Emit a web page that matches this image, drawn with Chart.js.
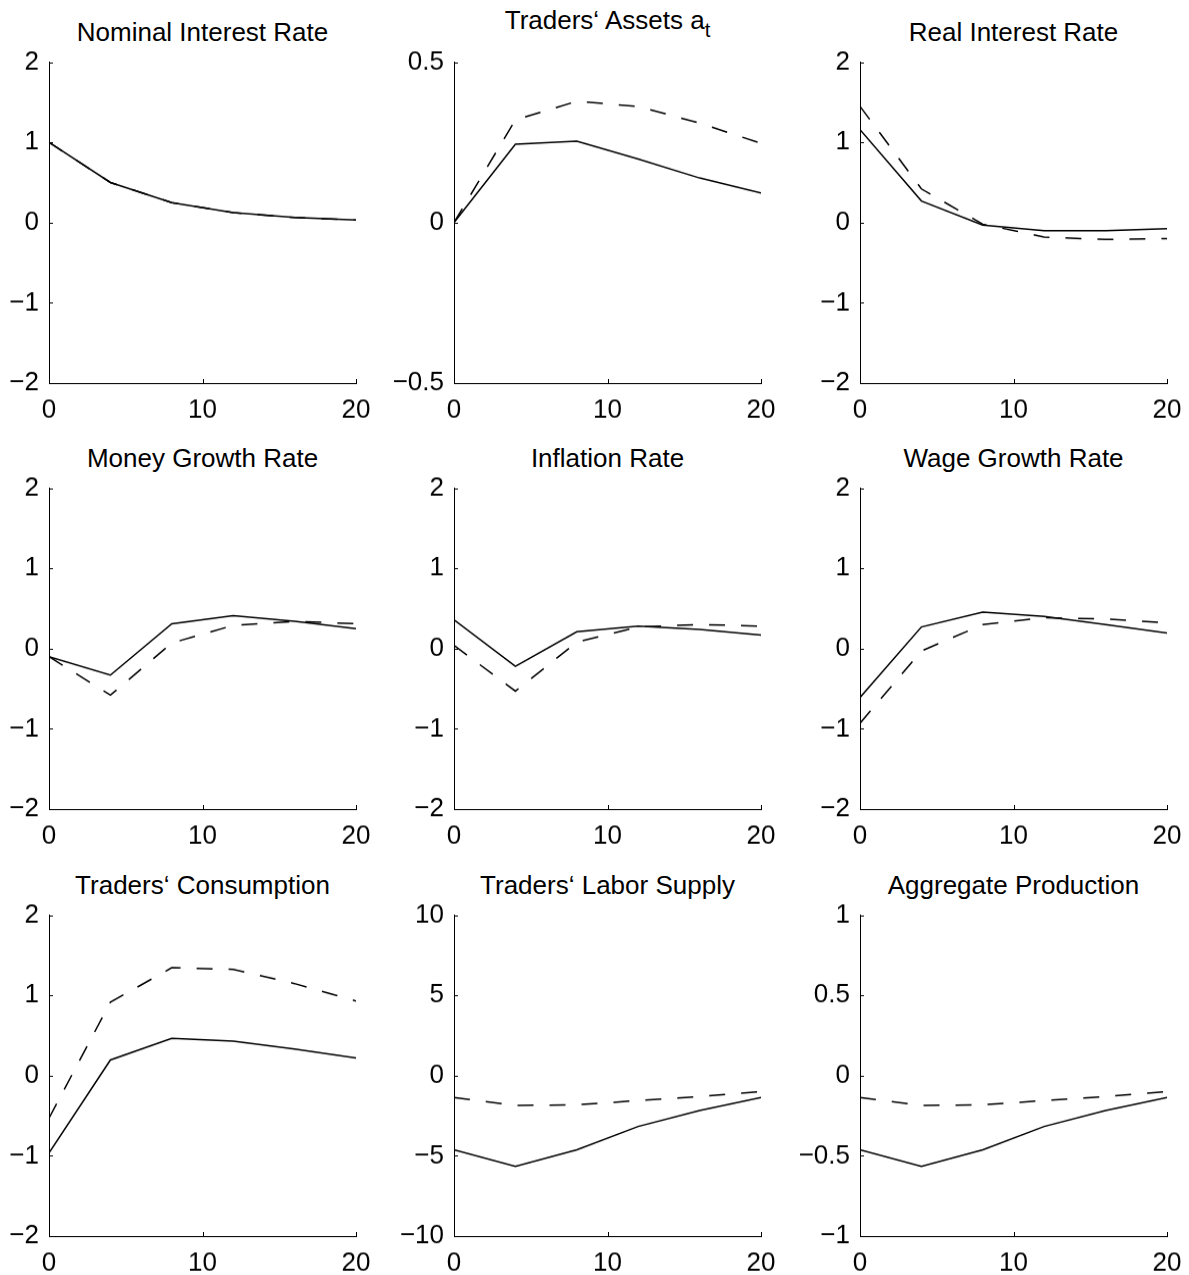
<!DOCTYPE html>
<html>
<head>
<meta charset="utf-8">
<script src="https://cdn.jsdelivr.net/npm/chart.js@4.4.1/dist/chart.umd.min.js"></script>
<style>
  html, body { margin: 0; padding: 0; background: #fff; }
  #page { position: relative; width: 1189px; height: 1275px; overflow: hidden; }
  .ttl { position: absolute; text-align: center; font-family: "Liberation Sans", Arial, sans-serif;
         font-size: 26px; line-height: 26px; color: #000; white-space: nowrap; }
  .ttl sub { font-size: 0.78em; vertical-align: -0.4em; line-height: 0; }
  canvas { position: absolute; }
</style>
</head>
<body>
<div id="page"></div>
<script>
// horizon (quarters)
const periods = [0, 4, 8, 12, 16, 20];
const xTicks = [0, 10, 20];

// y tick sets
const ticksTwo = [-2, -1, 0, 1, 2];
const ticksHalf = [-0.5, 0, 0.5];
const ticksTen = [-10, -5, 0, 5, 10];
const ticksOne = [-1, -0.5, 0, 0.5, 1];

// impulse responses: solid / dashed
const nominalSolid  = [1.0, 0.5, 0.25, 0.125, 0.063, 0.032];
const nominalDashed = [1.0, 0.5, 0.25, 0.125, 0.063, 0.032];
const assetsSolid   = [0, 0.244, 0.254, 0.198, 0.139, 0.092];
const assetsDashed  = [0, 0.32, 0.378, 0.362, 0.31, 0.247];
const realSolid     = [1.16, 0.27, -0.03, -0.10, -0.10, -0.075];
const realDashed    = [1.45, 0.42, -0.02, -0.18, -0.21, -0.20];
const moneySolid    = [-0.10, -0.33, 0.31, 0.41, 0.34, 0.25];
const moneyDashed   = [-0.10, -0.58, 0.07, 0.29, 0.34, 0.31];
const inflSolid     = [0.36, -0.22, 0.21, 0.28, 0.24, 0.17];
const inflDashed    = [0.04, -0.53, 0.08, 0.27, 0.30, 0.28];
const wageSolid     = [-0.61, 0.27, 0.455, 0.40, 0.30, 0.195];
const wageDashed    = [-0.93, -0.03, 0.30, 0.385, 0.37, 0.32];
const consSolid     = [-0.965, 0.195, 0.464, 0.43, 0.33, 0.22];
const consDashed    = [-0.53, 0.915, 1.345, 1.325, 1.147, 0.93];
const laborSolid    = [-4.62, -5.65, -4.62, -3.17, -2.17, -1.37];
const laborDashed   = [-1.37, -1.86, -1.82, -1.55, -1.30, -0.99];
const prodSolid     = [-0.462, -0.565, -0.462, -0.317, -0.217, -0.137];
const prodDashed    = [-0.137, -0.186, -0.182, -0.155, -0.130, -0.099];

const panels = [
  { title: 'Nominal Interest Rate', solid: nominalSolid, dashed: nominalDashed, yTicks: ticksTwo },
  { title: 'Traders\u2018 Assets a<sub>t</sub>', solid: assetsSolid, dashed: assetsDashed, yTicks: ticksHalf, raise: 12 },
  { title: 'Real Interest Rate', solid: realSolid, dashed: realDashed, yTicks: ticksTwo },
  { title: 'Money Growth Rate', solid: moneySolid, dashed: moneyDashed, yTicks: ticksTwo },
  { title: 'Inflation Rate', solid: inflSolid, dashed: inflDashed, yTicks: ticksTwo },
  { title: 'Wage Growth Rate', solid: wageSolid, dashed: wageDashed, yTicks: ticksTwo },
  { title: 'Traders\u2018 Consumption', solid: consSolid, dashed: consDashed, yTicks: ticksTwo },
  { title: 'Traders\u2018 Labor Supply', solid: laborSolid, dashed: laborDashed, yTicks: ticksTen },
  { title: 'Aggregate Production', solid: prodSolid, dashed: prodDashed, yTicks: ticksOne }
];

// grid geometry (plot areas)
const colLeft = [49, 454, 860];
const rowTop = [62, 488, 915];
const plotW = 307, plotH = 322;
const padTop = 18, padRight = 26, xAxisH = 46;

Chart.defaults.font.family = '"Liberation Sans", Arial, sans-serif';
Chart.defaults.font.size = 26;
Chart.defaults.color = '#000';

// matlab style ticks pointing inward
const innerTicks = {
  id: 'innerTicks',
  afterDraw(chart) {
    const ctx = chart.ctx, a = chart.chartArea;
    const xs = chart.scales.x, ys = chart.scales.y;
    ctx.save();
    ctx.strokeStyle = '#000';
    ctx.lineWidth = 1;
    ctx.beginPath();
    ys.ticks.forEach(t => {
      const y = Math.round(ys.getPixelForValue(t.value)) + 0.5;
      ctx.moveTo(a.left, y); ctx.lineTo(a.left + 4, y);
    });
    xs.ticks.forEach(t => {
      const x = Math.round(xs.getPixelForValue(t.value)) + 0.5;
      ctx.moveTo(x, a.bottom); ctx.lineTo(x, a.bottom - 4);
    });
    ctx.stroke();
    ctx.restore();
  }
};

const minus = v => String(v).replace('-', '\u2212');
const page = document.getElementById('page');

panels.forEach((p, i) => {
  const col = i % 3, row = Math.floor(i / 3);
  const axisW = Math.min(62, colLeft[col]);
  const left = colLeft[col] - axisW;
  const top = rowTop[row] - padTop;
  const w = axisW + plotW + padRight;
  const h = padTop + plotH + xAxisH;

  const t = document.createElement('div');
  t.className = 'ttl';
  t.style.left = colLeft[col] + 'px';
  t.style.width = plotW + 'px';
  t.style.top = (rowTop[row] - 43 - (p.raise || 0)) + 'px';
  t.innerHTML = p.title;
  page.appendChild(t);

  const cv = document.createElement('canvas');
  cv.width = w; cv.height = h;
  cv.style.left = left + 'px';
  cv.style.top = top + 'px';
  cv.style.width = w + 'px';
  cv.style.height = h + 'px';
  page.appendChild(cv);

  const yMin = p.yTicks[0], yMax = p.yTicks[p.yTicks.length - 1];

  const chart = new Chart(cv, {
    type: 'line',
    data: {
      datasets: [
        { data: periods.map((x, k) => ({ x, y: p.solid[k] })), borderColor: '#000', borderWidth: 1.5 },
        { data: periods.map((x, k) => ({ x, y: p.dashed[k] })), borderColor: '#000', borderWidth: 1.5, borderDash: [16, 16] }
      ]
    },
    options: {
      responsive: false,
      animation: false,
      devicePixelRatio: 1,
      layout: { padding: { top: padTop, right: padRight, left: 0, bottom: 0 } },
      elements: { point: { radius: 0 }, line: { tension: 0 } },
      plugins: { legend: { display: false }, tooltip: { enabled: false } },
      scales: {
        x: {
          type: 'linear', min: 0, max: 20,
          afterBuildTicks: s => { s.ticks = xTicks.map(v => ({ value: v })); },
          afterFit: s => { s.height = xAxisH; },
          grid: { display: false, drawTicks: false },
          border: { display: true, color: '#000', width: 1 },
          ticks: { padding: 11, maxRotation: 0, callback: minus }
        },
        y: {
          type: 'linear', min: yMin, max: yMax,
          afterBuildTicks: s => { s.ticks = p.yTicks.map(v => ({ value: v })); },
          afterFit: s => { s.width = axisW; },
          grid: { display: false, drawTicks: false },
          border: { display: true, color: '#000', width: 1 },
          ticks: { padding: 10, callback: minus }
        }
      }
    },
    plugins: [innerTicks]
  });

  // line the plot area up with the grid: shift canvas and grow it by the extra top margin
  const extra = Math.round(chart.chartArea.top - padTop);
  const shiftX = Math.round(chart.chartArea.left - axisW);
  if (extra || shiftX) {
    cv.style.top = (top - extra) + 'px';
    cv.style.left = (left - shiftX) + 'px';
    chart.resize(w, h + extra);
    cv.style.height = (h + extra) + 'px';
    cv.style.width = w + 'px';
  }
});
</script>
</body>
</html>
